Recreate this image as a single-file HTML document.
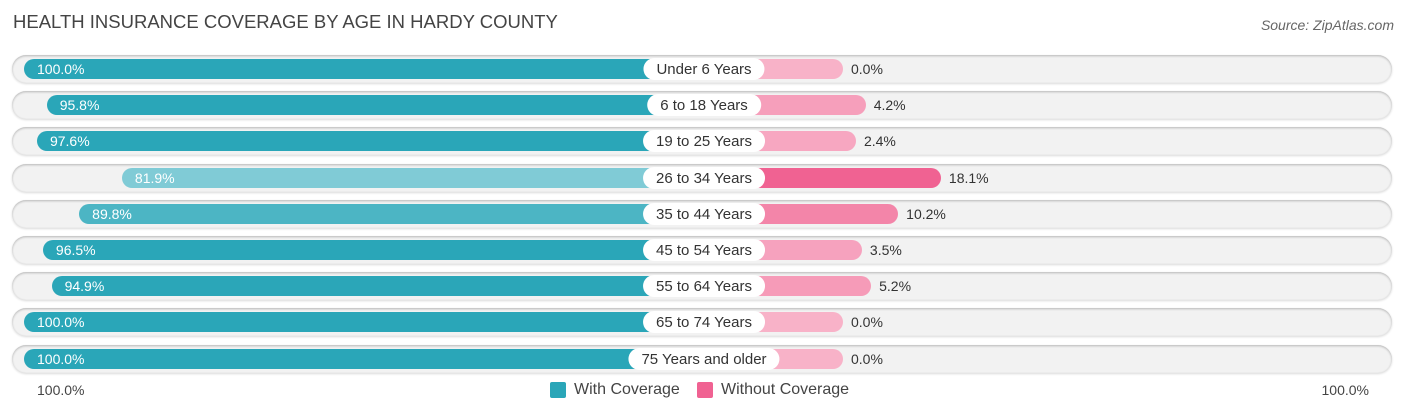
<!DOCTYPE html>
<html><head><meta charset="utf-8"><style>
body{margin:0;width:1406px;height:415px;background:#fff;font-family:"Liberation Sans",sans-serif;overflow:hidden;position:relative}
.t{position:absolute;left:13px;top:11px;font-size:18.5px;color:#444}
.s{position:absolute;right:12px;top:17px;font-size:14px;color:#666;font-style:italic}
.track{position:absolute;left:12px;width:1380px;height:28px;border-radius:14px;background:#f2f2f2;box-shadow:0 1px 2px rgba(0,0,0,.25) inset,0 1px 2px rgba(0,0,0,.15)}
.bar{position:absolute;height:20px;border-radius:10px}
.lab{position:absolute;height:22px;border-radius:11px;background:#fff;font-size:15px;color:#333;line-height:24px;text-align:center;transform:translateX(-50%);padding:0 13px;white-space:nowrap}
.vin{position:absolute;font-size:14px;color:#fff;line-height:21px}
.vout{position:absolute;font-size:14px;color:#333;line-height:21px}
.ax{position:absolute;top:382px;font-size:14px;color:#444}
.leg{position:absolute;top:381px;font-size:16px;color:#444;display:flex;align-items:center}
.sw{width:16px;height:16px;border-radius:2px;margin-right:8px}
</style></head><body>
<div class="t">HEALTH INSURANCE COVERAGE BY AGE IN HARDY COUNTY</div>
<div class="s">Source: ZipAtlas.com</div>
<div id="chart"></div>
<div class="ax" style="left:37px">100.0%</div>
<div class="ax" style="right:37px">100.0%</div>
<div class="leg" style="left:550px"><div class="sw" style="background:#2aa6b8"></div>With Coverage</div>
<div class="leg" style="left:697px"><div class="sw" style="background:#f06292"></div>Without Coverage</div>
<script>
const categories=["Under 6 Years","6 to 18 Years","19 to 25 Years","26 to 34 Years","35 to 44 Years","45 to 54 Years","55 to 64 Years","65 to 74 Years","75 Years and older"];
const withCov=[100.0,95.8,97.6,81.9,89.8,96.5,94.9,100.0,100.0];
const withoutCov=[0.0,4.2,2.4,18.1,10.2,3.5,5.2,0.0,0.0];
const center=704,off=139,scale=5.41,top0=69,step=36.2;
const c=document.getElementById('chart');
function mix(a,b,t){t=Math.max(0,Math.min(1,t));return 'rgb('+a.map((x,i)=>Math.round(x+(b[i]-x)*t)).join(',')+')';}
categories.forEach((cat,i)=>{
  const y=top0+i*step;
  const tr=document.createElement('div');tr.className='track';tr.style.top=(y-14)+'px';
  
  
  c.appendChild(tr);
  const lz=center-off, wx=lz-withCov[i]*scale;
  const b=document.createElement('div');b.className='bar';
  b.style.left=wx+'px';b.style.width=(center-wx)+'px';b.style.top=(y-10)+'px';
  b.style.background=mix([140,208,218],[42,166,184],(withCov[i]-80)/15);
  
  
  c.appendChild(b);
  const v=document.createElement('div');v.className='vin';v.style.left=(wx+13)+'px';v.style.top=(y-10)+'px';v.textContent=withCov[i].toFixed(1)+'%';
  
  
  c.appendChild(v);
  const rz=center+off, rx=rz+withoutCov[i]*scale;
  const p=document.createElement('div');p.className='bar';
  p.style.left=center+'px';p.style.width=(rx-center)+'px';p.style.top=(y-10)+'px';
  p.style.background=mix([248,178,200],[240,98,146],withoutCov[i]/18);
  
  
  c.appendChild(p);
  const o=document.createElement('div');o.className='vout';o.style.left=(rx+8)+'px';o.style.top=(y-10)+'px';o.textContent=withoutCov[i].toFixed(1)+'%';
  
  
  c.appendChild(o);
  const l=document.createElement('div');l.className='lab';l.style.left=center+'px';l.style.top=(y-11)+'px';l.textContent=cat;
  
  
  c.appendChild(l);
});
</script>
</body></html>
